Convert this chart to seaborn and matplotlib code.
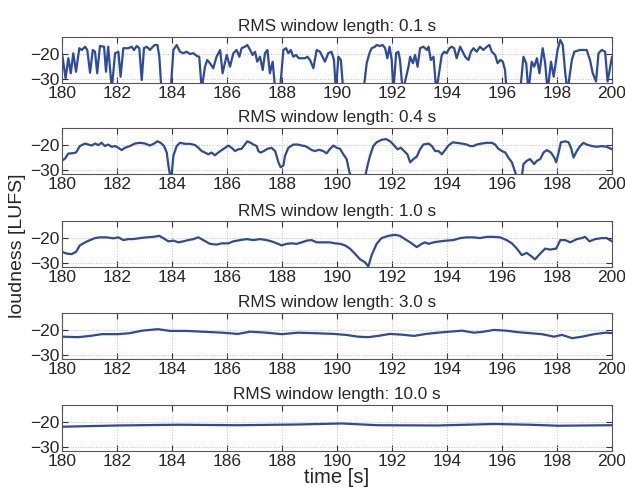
import matplotlib
matplotlib.use("Agg")
import matplotlib.pyplot as plt
import seaborn as sns
import pandas as pd

# (czas [s], glosnosc [LUFS]) dla kazdego okna RMS
t_01 = [180.00, 180.13, 180.23, 180.32, 180.41, 180.51, 180.63, 180.72, 180.84, 180.92,
        181.02, 181.12, 181.20, 181.28, 181.38, 181.53, 181.60, 181.68, 181.81, 181.93,
        182.05, 182.13, 182.23, 182.41, 182.53, 182.62, 182.72, 182.81, 182.90, 182.98,
        183.08, 183.20, 183.30, 183.38, 183.47, 183.54, 183.62, 183.80, 183.95, 184.05,
        184.17, 184.29, 184.41, 184.53, 184.65, 184.78, 184.90, 184.99, 185.08, 185.20,
        185.28, 185.38, 185.50, 185.62, 185.75, 185.84, 185.99, 186.11, 186.23, 186.35,
        186.45, 186.53, 186.65, 186.74, 186.84, 186.93, 187.02, 187.10, 187.20, 187.30,
        187.38, 187.47, 187.56, 187.66, 187.76, 187.93, 188.05, 188.15, 188.23, 188.32,
        188.41, 188.51, 188.61, 188.72, 188.84, 188.92, 189.02, 189.14, 189.26, 189.38,
        189.50, 189.56, 189.68, 189.80, 189.89, 189.96, 190.05, 190.14, 190.23, 190.60,
        190.96, 191.08, 191.18, 191.26, 191.38, 191.44, 191.56, 191.66, 191.75, 191.83,
        191.91, 191.99, 192.05, 192.15, 192.23, 192.29, 192.39, 192.60, 192.66, 192.76,
        192.84, 192.93, 193.02, 193.14, 193.27, 193.33, 193.41, 193.51, 193.61, 193.81,
        193.90, 193.99, 194.09, 194.17, 194.26, 194.35, 194.48, 194.57, 194.66, 194.78,
        194.87, 194.96, 195.08, 195.20, 195.32, 195.45, 195.54, 195.63, 195.75, 195.84,
        195.94, 196.03, 196.11, 196.17, 196.40, 196.66, 196.78, 196.88, 196.96, 197.08,
        197.17, 197.27, 197.36, 197.48, 197.57, 197.66, 197.78, 197.88, 198.02, 198.12,
        198.21, 198.30, 198.38, 198.54, 198.63, 198.84, 198.96, 199.08, 199.20, 199.30,
        199.42, 199.51, 199.63, 199.75, 199.84, 200.00]
v_01 = [-19.7, -29.7, -21.7, -27.7, -19.7, -27.1, -17.7, -18.4, -17.1, -18.4,
        -27.5, -18.4, -19.1, -27.7, -16.8, -17.1, -27.1, -17.1, -34.0, -19.7,
        -19.1, -29.1, -17.7, -17.7, -17.1, -18.4, -16.8, -17.7, -30.4, -17.7,
        -17.1, -18.4, -17.1, -16.4, -16.4, -21.1, -35.0, -40.0, -35.0, -18.4,
        -16.4, -19.1, -19.7, -19.1, -20.0, -19.7, -20.8, -21.1, -34.0, -25.1,
        -22.4, -23.7, -25.7, -21.1, -18.4, -27.7, -20.4, -25.1, -19.7, -18.4,
        -21.1, -17.7, -17.1, -16.4, -18.4, -20.4, -19.1, -23.1, -21.1, -26.4,
        -19.7, -18.4, -27.7, -23.1, -35.0, -34.0, -18.4, -17.7, -19.7, -18.4,
        -21.1, -20.4, -21.7, -21.7, -21.7, -21.1, -22.4, -25.7, -18.4, -19.1,
        -21.7, -23.1, -19.7, -19.1, -22.4, -35.0, -21.1, -22.4, -35.0, -40.0,
        -35.0, -23.7, -19.7, -17.7, -17.1, -16.4, -16.8, -16.4, -17.7, -21.7,
        -17.1, -22.4, -35.0, -19.7, -19.1, -22.4, -35.0, -25.1, -21.1, -23.7,
        -20.4, -25.1, -17.7, -17.1, -18.4, -17.1, -22.4, -21.1, -35.0, -20.4,
        -19.1, -19.7, -17.7, -17.1, -17.7, -21.7, -17.1, -19.1, -21.1, -22.4,
        -19.1, -17.7, -19.1, -17.1, -18.4, -17.1, -16.4, -19.1, -20.4, -23.7,
        -22.4, -23.1, -26.4, -35.0, -40.0, -35.0, -21.1, -23.7, -35.0, -23.1,
        -25.1, -21.7, -27.7, -17.7, -23.7, -35.0, -23.1, -29.1, -18.4, -14.4,
        -16.4, -27.7, -35.0, -22.4, -19.1, -18.4, -18.4, -18.4, -22.4, -27.7,
        -31.0, -19.7, -18.4, -19.1, -31.0, -21.1]

t_04 = [180.00, 180.11, 180.23, 180.35, 180.51, 180.65, 180.84, 180.96, 181.08, 181.20,
        181.32, 181.44, 181.56, 181.68, 181.81, 181.93, 182.05, 182.17, 182.29, 182.47,
        182.65, 182.84, 183.02, 183.20, 183.35, 183.47, 183.59, 183.71, 183.81, 183.87,
        183.93, 183.99, 184.05, 184.17, 184.29, 184.47, 184.65, 184.84, 184.96, 185.08,
        185.20, 185.32, 185.44, 185.56, 185.68, 185.81, 185.93, 186.05, 186.17, 186.29,
        186.41, 186.53, 186.65, 186.74, 186.86, 186.96, 187.08, 187.14, 187.22, 187.34,
        187.47, 187.62, 187.75, 187.87, 187.95, 188.05, 188.11, 188.23, 188.41, 188.59,
        188.72, 188.84, 188.96, 189.08, 189.20, 189.35, 189.50, 189.62, 189.75, 189.87,
        189.99, 190.11, 190.23, 190.35, 190.45, 190.53, 190.80, 191.02, 191.11, 191.20,
        191.32, 191.44, 191.62, 191.78, 191.93, 192.05, 192.20, 192.32, 192.44, 192.56,
        192.66, 192.78, 192.90, 193.02, 193.14, 193.33, 193.45, 193.57, 193.69, 193.81,
        193.93, 194.05, 194.21, 194.35, 194.54, 194.72, 194.84, 194.96, 195.08, 195.26,
        195.45, 195.63, 195.75, 195.87, 196.00, 196.12, 196.23, 196.36, 196.48, 196.54,
        196.72, 196.78, 196.90, 197.02, 197.17, 197.27, 197.39, 197.51, 197.63, 197.78,
        197.90, 197.97, 198.06, 198.14, 198.30, 198.42, 198.51, 198.60, 198.72, 198.84,
        198.96, 199.08, 199.27, 199.45, 199.63, 199.81, 200.00]
v_04 = [-26.4, -25.5, -23.5, -23.4, -23.1, -20.5, -19.5, -19.9, -20.3, -19.5,
        -20.1, -19.2, -20.5, -19.9, -20.8, -20.5, -21.2, -22.1, -21.2, -20.5,
        -19.5, -19.2, -19.5, -20.3, -19.5, -18.6, -19.2, -20.5, -23.1, -28.3,
        -32.2, -31.6, -24.4, -20.5, -19.2, -19.6, -19.6, -20.1, -21.2, -22.5,
        -23.1, -23.8, -23.1, -24.2, -23.1, -22.1, -21.2, -20.3, -21.2, -22.5,
        -21.8, -21.6, -19.9, -18.6, -19.2, -19.9, -20.5, -22.5, -23.1, -22.5,
        -21.6, -21.2, -22.5, -27.0, -29.0, -28.3, -24.4, -21.2, -19.9, -19.9,
        -20.3, -20.5, -21.2, -22.1, -22.5, -22.0, -22.5, -23.4, -21.6, -20.3,
        -21.2, -21.6, -23.8, -25.7, -30.9, -32.9, -40.0, -32.9, -28.3, -24.4,
        -20.5, -19.0, -18.0, -17.7, -18.6, -19.9, -21.8, -21.2, -22.5, -23.8,
        -27.0, -25.7, -24.7, -21.8, -19.9, -19.5, -20.5, -22.5, -22.5, -23.8,
        -22.1, -20.3, -19.0, -19.2, -19.5, -19.9, -20.5, -20.5, -19.9, -19.5,
        -19.2, -19.2, -19.9, -21.6, -22.5, -23.1, -25.1, -27.0, -30.9, -32.9,
        -32.9, -27.7, -26.4, -25.7, -27.7, -26.4, -25.7, -23.1, -22.1, -23.1,
        -25.1, -27.0, -23.1, -19.0, -18.6, -19.0, -21.2, -25.1, -22.5, -20.5,
        -19.2, -19.9, -20.5, -20.8, -20.5, -20.8, -21.8]

t_10 = [180.00, 180.17, 180.35, 180.51, 180.65, 180.84, 181.02, 181.20, 181.38, 181.62,
        181.87, 182.05, 182.23, 182.41, 182.59, 182.84, 183.08, 183.32, 183.54, 183.68,
        183.87, 184.05, 184.23, 184.41, 184.59, 184.78, 184.96, 185.14, 185.38, 185.62,
        185.81, 186.05, 186.23, 186.47, 186.72, 186.96, 187.20, 187.44, 187.62, 187.81,
        187.99, 188.17, 188.35, 188.53, 188.72, 188.90, 189.08, 189.26, 189.50, 189.75,
        189.93, 190.11, 190.29, 190.47, 190.65, 190.84, 191.02, 191.14, 191.26, 191.44,
        191.62, 191.87, 192.11, 192.29, 192.47, 192.66, 192.90, 193.08, 193.20, 193.33,
        193.51, 193.75, 193.99, 194.23, 194.48, 194.72, 194.96, 195.20, 195.45, 195.69,
        195.93, 196.17, 196.36, 196.54, 196.72, 196.90, 197.08, 197.20, 197.39, 197.57,
        197.75, 197.97, 198.12, 198.30, 198.48, 198.72, 198.90, 199.02, 199.18, 199.39,
        199.63, 199.81, 200.00]
v_10 = [-25.5, -26.2, -26.4, -25.5, -22.9, -21.7, -20.8, -20.0, -19.7, -19.7,
        -20.1, -19.7, -20.8, -20.4, -20.4, -20.0, -19.7, -19.5, -19.1, -20.0,
        -21.3, -21.0, -21.7, -21.3, -20.8, -20.4, -19.7, -20.8, -22.3, -22.6,
        -22.1, -22.1, -21.3, -20.8, -20.4, -20.8, -20.4, -20.8, -21.3, -22.1,
        -22.9, -22.3, -22.1, -22.3, -21.7, -21.0, -20.8, -21.7, -21.7, -21.7,
        -22.1, -22.3, -22.9, -24.2, -26.2, -28.5, -29.7, -31.3, -26.8, -22.3,
        -20.0, -19.1, -18.7, -19.1, -20.4, -21.7, -23.6, -22.3, -21.7, -22.3,
        -21.7, -21.3, -21.0, -20.8, -20.0, -19.7, -19.7, -20.0, -19.5, -19.5,
        -19.7, -20.8, -22.1, -24.2, -26.8, -25.9, -27.4, -28.5, -26.2, -24.2,
        -24.6, -24.2, -20.8, -20.8, -21.7, -20.4, -20.0, -19.5, -21.3, -20.4,
        -20.0, -20.0, -21.3]

t_30 = [180.00, 180.58, 181.02, 181.45, 182.04, 182.47, 182.91, 183.49, 183.93, 184.51,
        185.09, 185.82, 186.40, 186.84, 187.42, 188.00, 188.58, 189.16, 189.89, 190.33,
        190.76, 191.13, 191.49, 191.93, 192.36, 192.80, 193.24, 193.67, 194.11, 194.55,
        194.98, 195.27, 195.71, 196.15, 196.58, 197.02, 197.45, 197.89, 198.18, 198.55,
        198.91, 199.35, 199.78, 200.00]
v_30 = [-22.7, -22.9, -22.4, -21.7, -21.7, -21.3, -20.3, -19.7, -20.4, -20.4,
        -20.7, -21.1, -21.6, -20.7, -21.1, -21.7, -21.1, -21.3, -21.6, -22.0,
        -22.7, -22.9, -22.4, -21.6, -21.9, -22.4, -21.6, -21.1, -20.7, -20.3,
        -21.1, -20.8, -20.0, -20.3, -20.9, -21.3, -21.7, -22.7, -22.0, -23.3,
        -22.7, -21.7, -21.1, -21.3]

t_100 = [180.00, 182.04, 184.22, 186.40, 188.58, 190.18, 191.49, 193.67, 195.71, 197.02,
         198.04, 200.00]
v_100 = [-21.9, -21.4, -21.1, -21.3, -21.0, -20.6, -21.3, -21.4, -20.8, -21.1,
         -21.5, -21.3]

windows = ["0.1", "0.4", "1.0", "3.0", "10.0"]
series = [(t_01, v_01), (t_04, v_04), (t_10, v_10), (t_30, v_30), (t_100, v_100)]

sns.set_style("ticks")
plt.rcParams['font.family'] = ['Liberation Sans', 'DejaVu Sans']

fig = plt.figure(figsize=(6.25, 4.91), dpi=100)
bottoms = [0.831, 0.646, 0.456, 0.269, 0.0815]
line_color = "#2b4aa8"

for w, (t, v), b in zip(windows, series, bottoms):
    ax = fig.add_axes([0.0992, b, 0.8800, 0.0937])
    df = pd.DataFrame({"time": t, "loudness": v})
    sns.lineplot(data=df, x="time", y="loudness", ax=ax, color=line_color,
                 linewidth=1.6, sort=False, estimator=None)
    ax.set_xlim(180, 200)
    ax.set_ylim(-31.6, -13.2)
    ax.set_xticks(range(180, 201, 2))
    ax.set_yticks([-30, -20])
    ax.grid(True, linestyle=":", color="#c0c0c0", linewidth=0.7)
    ax.tick_params(direction="in", top=True, right=True, labelsize=12.5,
                   length=4, width=0.8, color="#333333", pad=2)
    for s in ax.spines.values():
        s.set_color("#555555")
        s.set_linewidth(0.8)
    ax.set_xlabel("")
    ax.set_ylabel("")
    ax.set_title(f"RMS window length: {w} s", fontsize=12.3, pad=4)

fig.text(0.028, 0.5, "loudness [LUFS]", rotation=90, va="center", ha="center", fontsize=14)
fig.text(0.539, 0.027, "time [s]", va="center", ha="center", fontsize=14.5)

fig.savefig("out.png", dpi=100)
